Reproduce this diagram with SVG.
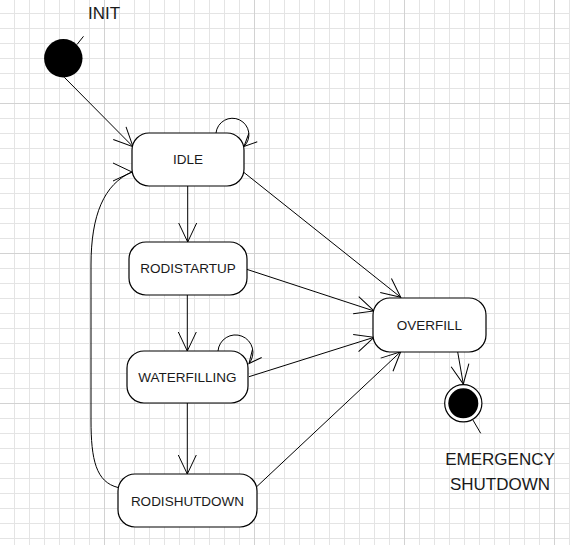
<svg xmlns="http://www.w3.org/2000/svg" width="570" height="545" viewBox="0 0 570 545">
<style>
.node{fill:#fff;stroke:#000;stroke-width:1.2}
.lbl{font-family:"Liberation Sans",Arial,sans-serif;font-size:13.5px;fill:#1a1a1a;text-anchor:middle}
.big{font-family:"Liberation Sans",Arial,sans-serif;font-size:17px;fill:#1a1a1a;text-anchor:middle}
.edge{fill:none;stroke:#000;stroke-width:1}
.ah{fill:none;stroke:#000;stroke-width:1}
</style>
<defs>
<pattern id="grid" x="14" y="13" width="15" height="15" patternUnits="userSpaceOnUse">
<path d="M0.5 0V15M0 0.5H15" stroke="#e4e4e4" stroke-width="1" fill="none"/>
</pattern>
<marker id="arr" markerUnits="userSpaceOnUse" orient="auto" overflow="visible" markerWidth="1" markerHeight="1">
<path class="ah" d="M-19 -9L0 0L-19 9"/>
</marker>
<marker id="arrH" markerUnits="userSpaceOnUse" orient="0" overflow="visible" markerWidth="1" markerHeight="1">
<path class="ah" d="M-19 -9L0 0L-19 9"/>
</marker>
<marker id="arrS" markerUnits="userSpaceOnUse" orient="auto" overflow="visible" markerWidth="1" markerHeight="1">
<path class="ah" d="M-12.7 -6L0 0L-12.7 6"/>
</marker>
</defs>
<rect width="570" height="545" fill="#fff"/>
<rect width="570" height="545" fill="url(#grid)"/>
<path d="M104.5 0V545M254.5 0V545M404.5 0V545M554.5 0V545M0 103.5H570M0 253.5H570M0 403.5H570" stroke="#d2d2d2" stroke-width="1" fill="none"/>

<g id="connectors">
<path class="edge" d="M64.3 77.3L133 146.7" marker-end="url(#arr)"/>
<path class="edge" d="M216 133A16.5 16.5 0 1 1 244 146.5" marker-end="url(#arrS)"/>
<path class="edge" d="M187.7 186L187.7 242" marker-end="url(#arr)"/>
<path class="edge" d="M187.3 295L187.3 351" marker-end="url(#arr)"/>
<path class="edge" d="M218 351A17.5 17.5 0 1 1 249 363.5" marker-end="url(#arrS)"/>
<path class="edge" d="M187.3 403L187.3 474" marker-end="url(#arr)"/>
<path class="edge" d="M118 487.5C96 482 91 460 91 420L91 265C91 215 104 184 132 172" marker-end="url(#arrH)"/>
<path class="edge" d="M244 172.5L400.7 297.3" marker-end="url(#arr)"/>
<path class="edge" d="M246.7 269.3L374 311" marker-end="url(#arr)"/>
<path class="edge" d="M249 376.7L374 337.3" marker-end="url(#arr)"/>
<path class="edge" d="M256.7 486.7L400.7 351.7" marker-end="url(#arr)"/>
<path class="edge" d="M457.7 352L463.3 384" marker-end="url(#arr)"/>
</g>

<g id="init">
<circle cx="63.3" cy="58.3" r="19.2" fill="#000"/>
<path class="edge" d="M77 44.5L83.5 36.3"/>
<text class="big" x="104" y="19.3">INIT</text>
</g>

<g id="idle">
<rect class="node" x="132" y="133" width="112" height="53" rx="17"/>
<text class="lbl" x="188" y="164.3">IDLE</text>
</g>

<g id="rodistartup">
<rect class="node" x="129" y="242" width="118" height="53" rx="17"/>
<text class="lbl" x="188" y="273.3">RODISTARTUP</text>
</g>

<g id="waterfilling">
<rect class="node" x="127" y="351" width="121" height="52" rx="17"/>
<text class="lbl" x="187.5" y="381.7">WATERFILLING</text>
</g>

<g id="rodishutdown">
<rect class="node" x="118" y="474" width="139" height="53" rx="17"/>
<text class="lbl" x="187.5" y="505.5">RODISHUTDOWN</text>
</g>

<g id="overfill">
<rect class="node" x="373" y="298" width="113" height="54" rx="17"/>
<text class="lbl" x="429.5" y="329.5">OVERFILL</text>
</g>

<g id="emergency-shutdown">
<circle cx="463.3" cy="403.3" r="18.6" fill="#fff" stroke="#000" stroke-width="1.2"/>
<circle cx="463.3" cy="403.3" r="15" fill="#000"/>
<path class="edge" d="M472.8 419.8L480.7 433.3"/>
<text class="big" x="500" y="465">EMERGENCY</text>
<text class="big" x="500" y="490">SHUTDOWN</text>
</g>
</svg>
